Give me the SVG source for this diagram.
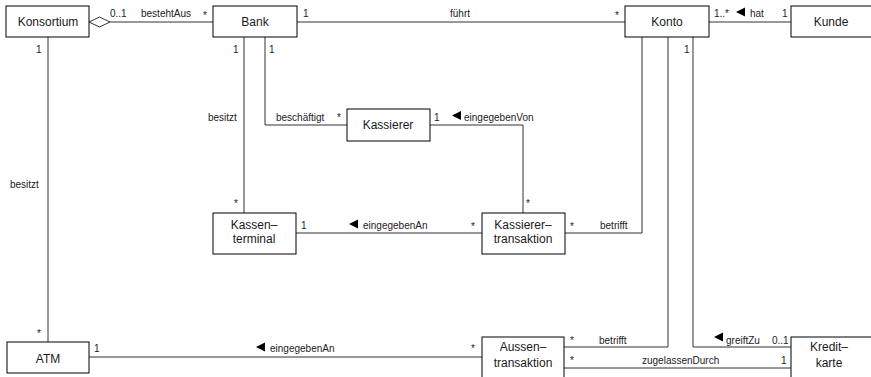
<svg xmlns="http://www.w3.org/2000/svg" width="871" height="377" viewBox="0 0 871 377">
  <style>
    .box { fill: #fff; stroke: #000; stroke-width: 1; }
    .name { font-family: "Liberation Sans", Arial, sans-serif; font-size: 12px; fill: #1a1a1a; text-anchor: middle; }
    .lbl { font-family: "Liberation Sans", Arial, sans-serif; font-size: 10px; fill: #222; }
    .line { fill: none; stroke: #333; stroke-width: 1; }
    .dir { fill: #000; }
  </style>
  <rect width="871" height="377" fill="#fff"/>

  <!-- associations -->
  <g id="connectors">
    <!-- Konsortium - Bank (aggregation) -->
    <polyline class="line" points="110,22 213,22"/>
    <polygon points="89,22 99.5,17 110,22 99.5,27" fill="#fff" stroke="#333" stroke-width="1"/>
    <text class="lbl" x="110" y="17">0..1</text>
    <text class="lbl" x="141" y="17">bestehtAus</text>
    <text class="lbl" x="203" y="19">*</text>

    <!-- Bank - Konto -->
    <polyline class="line" points="297,22 625,22"/>
    <text class="lbl" x="303" y="17">1</text>
    <text class="lbl" x="450" y="17">führt</text>
    <text class="lbl" x="615" y="19">*</text>

    <!-- Konto - Kunde -->
    <polyline class="line" points="709,22 791,22"/>
    <text class="lbl" x="714" y="17">1..*</text>
    <polygon class="dir" points="745,7.5 745,16.5 736,12"/>
    <text class="lbl" x="750" y="17">hat</text>
    <text class="lbl" x="782" y="17">1</text>

    <!-- Konsortium - ATM -->
    <polyline class="line" points="48,37 48,342"/>
    <text class="lbl" x="36" y="53">1</text>
    <text class="lbl" x="10" y="188">besitzt</text>
    <text class="lbl" x="37" y="337">*</text>

    <!-- Bank - Kassenterminal -->
    <polyline class="line" points="244,37 244,213"/>
    <text class="lbl" x="233" y="53">1</text>
    <text class="lbl" x="208" y="121">besitzt</text>
    <text class="lbl" x="234" y="207">*</text>

    <!-- Bank - Kassierer -->
    <polyline class="line" points="265,37 265,125 347,125"/>
    <text class="lbl" x="269" y="53">1</text>
    <text class="lbl" x="276" y="121">beschäftigt</text>
    <text class="lbl" x="337" y="121">*</text>

    <!-- Kassierer - Kassierertransaktion -->
    <polyline class="line" points="430,125 523,125 523,213"/>
    <text class="lbl" x="434" y="121">1</text>
    <polygon class="dir" points="461,111 461,120 452,115.5"/>
    <text class="lbl" x="464" y="121">eingegebenVon</text>
    <text class="lbl" x="526" y="207">*</text>

    <!-- Kassenterminal - Kassierertransaktion -->
    <polyline class="line" points="296,233 482,233"/>
    <text class="lbl" x="301" y="229">1</text>
    <polygon class="dir" points="358,219.5 358,228.5 349,224"/>
    <text class="lbl" x="363" y="229">eingegebenAn</text>
    <text class="lbl" x="471" y="230">*</text>

    <!-- Kassierertransaktion - Konto -->
    <polyline class="line" points="565,233 642,233 642,37"/>
    <text class="lbl" x="570" y="230">*</text>
    <text class="lbl" x="600" y="229">betrifft</text>

    <!-- ATM - Aussentransaktion -->
    <polyline class="line" points="89,357 482,357"/>
    <text class="lbl" x="94" y="352">1</text>
    <polygon class="dir" points="265,342.5 265,351.5 256,347"/>
    <text class="lbl" x="270" y="352">eingegebenAn</text>
    <text class="lbl" x="471" y="352">*</text>

    <!-- Aussentransaktion - Konto -->
    <polyline class="line" points="564,347 668,347 668,37"/>
    <text class="lbl" x="570" y="344">*</text>
    <text class="lbl" x="599" y="344">betrifft</text>

    <!-- Kreditkarte - Konto -->
    <polyline class="line" points="693,37 693,347 791,347"/>
    <text class="lbl" x="684" y="53">1</text>
    <polygon class="dir" points="723,332.5 723,341.5 714,337"/>
    <text class="lbl" x="726" y="344">greiftZu</text>
    <text class="lbl" x="772" y="344">0..1</text>

    <!-- Aussentransaktion - Kreditkarte -->
    <polyline class="line" points="564,368 791,368"/>
    <text class="lbl" x="570" y="364">*</text>
    <text class="lbl" x="642" y="364">zugelassenDurch</text>
    <text class="lbl" x="781" y="364">1</text>
  </g>

  <!-- classes -->
  <g id="konsortium">
    <rect class="box" x="6" y="6" width="83" height="31"/>
    <text class="name" x="48" y="26">Konsortium</text>
  </g>
  <g id="bank">
    <rect class="box" x="213" y="6" width="84" height="31"/>
    <text class="name" x="255" y="26">Bank</text>
  </g>
  <g id="konto">
    <rect class="box" x="625" y="6" width="84" height="31"/>
    <text class="name" x="667" y="26">Konto</text>
  </g>
  <g id="kunde">
    <rect class="box" x="791" y="6" width="84" height="31"/>
    <text class="name" x="831" y="26">Kunde</text>
  </g>
  <g id="kassierer">
    <rect class="box" x="347" y="109" width="83" height="32"/>
    <text class="name" x="388" y="129">Kassierer</text>
  </g>
  <g id="kassenterminal">
    <rect class="box" x="213" y="213" width="83" height="41"/>
    <text class="name" x="254" y="229">Kassen–</text>
    <text class="name" x="254" y="243">terminal</text>
  </g>
  <g id="kassierertransaktion">
    <rect class="box" x="482" y="213" width="83" height="41"/>
    <text class="name" x="523" y="229">Kassierer–</text>
    <text class="name" x="523" y="243">transaktion</text>
  </g>
  <g id="atm">
    <rect class="box" x="7" y="342" width="82" height="31"/>
    <text class="name" x="48" y="363">ATM</text>
  </g>
  <g id="aussentransaktion">
    <rect class="box" x="482" y="337" width="82" height="45"/>
    <text class="name" x="523" y="351">Aussen–</text>
    <text class="name" x="523" y="367">transaktion</text>
  </g>
  <g id="kreditkarte">
    <rect class="box" x="791" y="337" width="84" height="45"/>
    <text class="name" x="829" y="351">Kredit–</text>
    <text class="name" x="829" y="367">karte</text>
  </g>
</svg>
